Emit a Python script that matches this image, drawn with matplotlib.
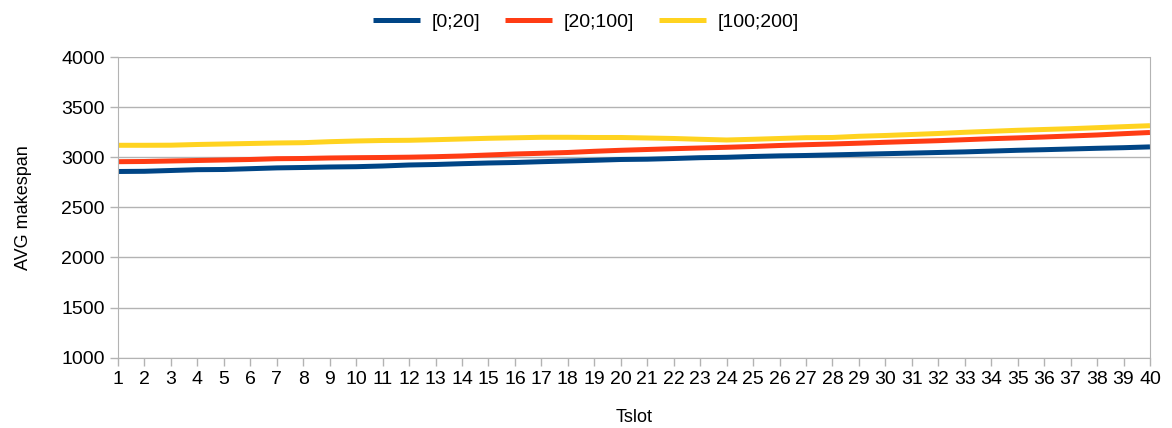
import matplotlib
matplotlib.use('Agg')
import matplotlib.pyplot as plt

plt.rcParams['font.family'] = ['Liberation Sans', 'DejaVu Sans']

tslot = list(range(1, 41))

low = [2860, 2862, 2870, 2878, 2880, 2888, 2896, 2900, 2905, 2908,
       2915, 2925, 2930, 2938, 2945, 2950, 2958, 2965, 2972, 2980,
       2983, 2990, 2998, 3002, 3010, 3016, 3020, 3026, 3032, 3038,
       3044, 3050, 3056, 3064, 3072, 3078, 3085, 3092, 3098, 3106]

mid = [2958, 2960, 2965, 2970, 2975, 2980, 2988, 2990, 2995, 2998,
       3000, 3003, 3008, 3015, 3025, 3035, 3042, 3050, 3062, 3072,
       3080, 3088, 3095, 3102, 3110, 3120, 3128, 3135, 3143, 3152,
       3160, 3168, 3178, 3188, 3196, 3205, 3215, 3225, 3238, 3250]

high = [3122, 3122, 3123, 3130, 3135, 3140, 3145, 3148, 3158, 3165,
        3170, 3172, 3178, 3185, 3192, 3197, 3202, 3202, 3200, 3200,
        3195, 3190, 3182, 3175, 3182, 3190, 3198, 3200, 3212, 3220,
        3230, 3240, 3252, 3262, 3272, 3280, 3288, 3298, 3308, 3318]

labels = ['[0;20]', '[20;100]', '[100;200]']
colors = ['#004586', '#ff3c14', '#ffd320']

fig = plt.figure(figsize=(11.72, 4.28), dpi=100)
ax = fig.add_axes([0.1007, 0.1647, 0.8805, 0.701])

for series, lab, col in zip([low, mid, high], labels, colors):
    ax.plot(tslot, series, color=col, linewidth=3.6, label=lab,
            solid_capstyle='butt')

ax.set_xlim(1, 40)
ax.set_ylim(1000, 4000)
ax.set_xticks(tslot)
ax.set_yticks(range(1000, 4001, 500))
ax.yaxis.grid(True, color='#b3b3b3', linewidth=1)
ax.set_axisbelow(True)

for side in ['left', 'right', 'bottom']:
    ax.spines[side].set_color('#b3b3b3')
ax.spines['top'].set_visible(False)
ax.tick_params(axis='both', colors='#b3b3b3', labelcolor='black',
               labelsize=14, length=6, width=1)
ax.tick_params(axis='x', pad=4)

ax.set_xlabel('Tslot', fontsize=13, labelpad=15)
ax.set_ylabel('AVG makespan', fontsize=13, labelpad=21)

fig.legend(loc='upper center', bbox_to_anchor=(0.5, 1.01), ncol=3,
           frameon=False, fontsize=14, handlelength=2.4, columnspacing=1.3,
           handletextpad=0.6)

fig.savefig('out.png', dpi=100)
